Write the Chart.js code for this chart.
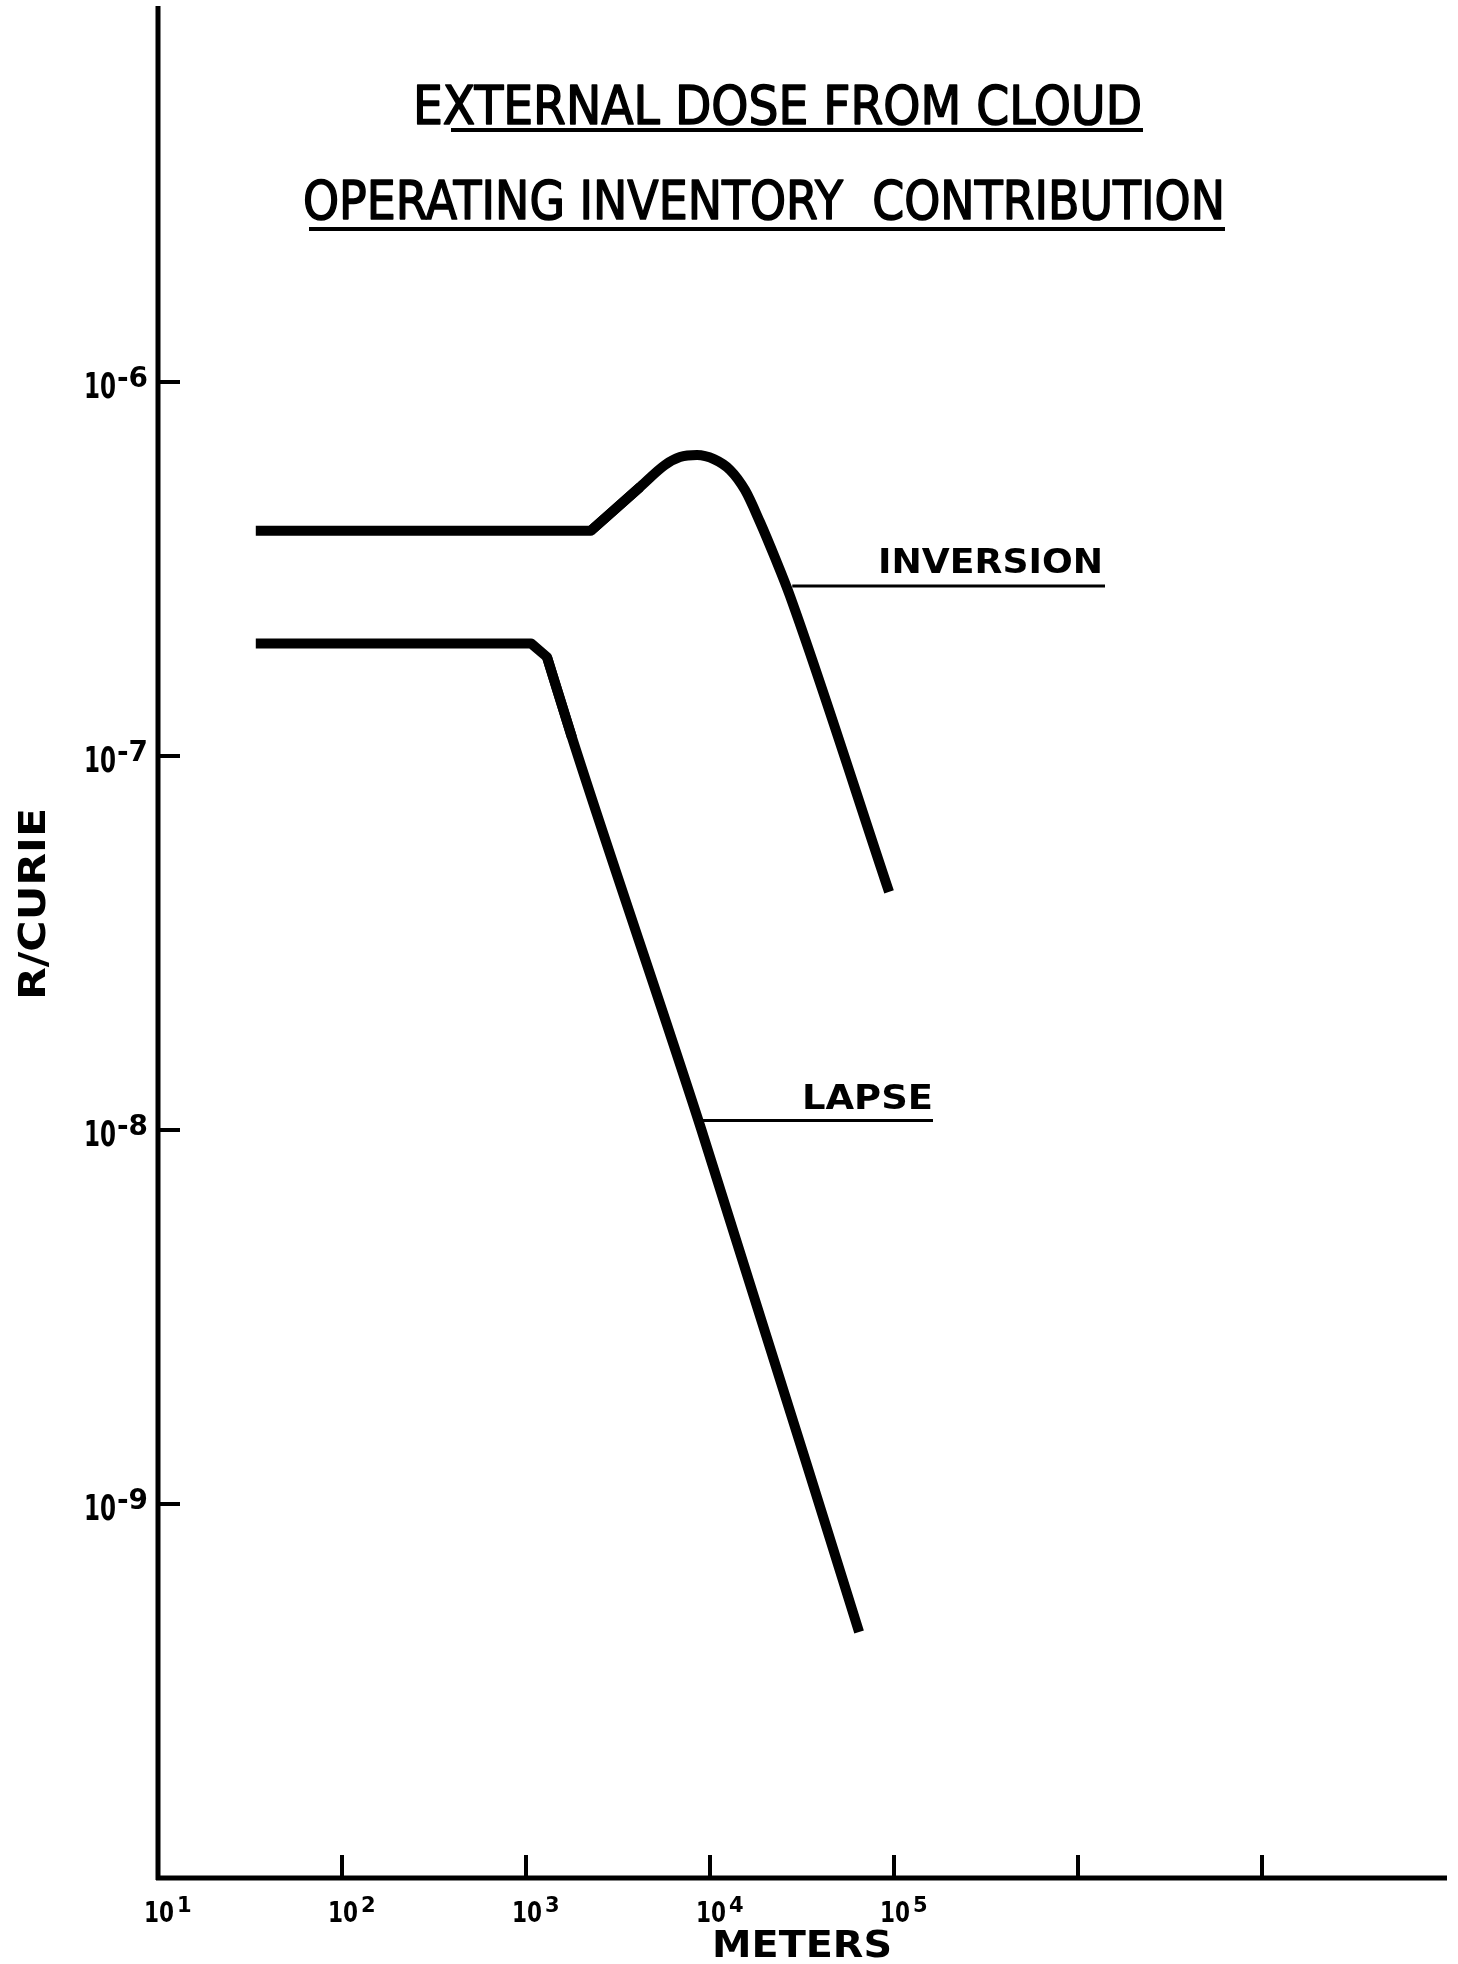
<!DOCTYPE html>
<html>
<head>
<meta charset="utf-8">
<title>External dose from cloud</title>
<script src="https://cdn.jsdelivr.net/npm/chart.js@4.4.1/dist/chart.umd.min.js"></script>
<style>
  html, body { margin: 0; padding: 0; background: #fff; }
  #wrap { width: 1458px; height: 1964px; position: relative; }
</style>
</head>
<body>
<div id="wrap"><canvas id="dose-chart"></canvas></div>
<script>
// distance (meters) vs dose (R/curie)
const inversionMeters = [34, 2250, 4170, 5690, 6870, 8500, 10500, 12850, 15500, 18700, 22600, 27200, 94000];
const inversionDose   = [4.0e-7, 4.0e-7, 5.24e-7, 6.0e-7, 6.3e-7, 6.38e-7, 6.22e-7, 5.82e-7, 5.14e-7, 4.22e-7, 3.38e-7, 2.68e-7, 4.33e-8];
const lapseMeters = [34, 1065, 1300, 1778, 8930, 64600];
const lapseDose   = [2.0e-7, 2.0e-7, 1.84e-7, 1.12e-7, 1.01e-8, 4.55e-10];

// ticks and labels
const xTicks = [1e2, 1e3, 1e4, 1e5, 1e6, 1e7];
const xLabelValues = [1e1, 1e2, 1e3, 1e4, 1e5];
const xLabelExps = ['1', '2', '3', '4', '5'];
const yTicks = [1e-6, 1e-7, 1e-8, 1e-9];
const yLabelExps = ['-6', '-7', '-8', '-9'];

const titleLines = ['EXTERNAL DOSE FROM CLOUD', 'OPERATING INVENTORY  CONTRIBUTION'];

// where the label leaders meet the curves (meters, R/curie)
const inversionLeader = [28000, 2.85e-7];
const lapseLeader = [8800, 1.06e-8];

const INK = '#000';
const FONT = '"DejaVu Sans", sans-serif';

const toPoints = (xs, ys) => xs.map((m, i) => ({ x: m, y: ys[i] }));

// draw text squeezed/stretched so it spans exactly `width` px from x
function fitText(ctx, text, x, y, width, outline) {
    const w = ctx.measureText(text).width;
    ctx.save();
    ctx.translate(x, y);
    ctx.scale(width / w, 1);
    ctx.textAlign = 'left';
    ctx.fillText(text, 0, 0);
    if (outline) {
        ctx.lineWidth = outline;
        ctx.lineJoin = 'round';
        ctx.strokeText(text, 0, 0);
    }
    ctx.restore();
}

const paperAxes = {
    id: 'paperAxes',
    afterDatasetsDraw(chart) {
        const { ctx, chartArea: a, scales: { x, y } } = chart;
        ctx.save();
        ctx.strokeStyle = INK;
        ctx.fillStyle = INK;
        ctx.textBaseline = 'alphabetic';

        // axis lines
        ctx.lineWidth = 5;
        ctx.beginPath();
        ctx.moveTo(a.left, 6);
        ctx.lineTo(a.left, a.bottom + 2);
        ctx.moveTo(a.left - 2, a.bottom);
        ctx.lineTo(a.right + 1, a.bottom);
        ctx.stroke();

        // tick marks point into the plot
        ctx.lineWidth = 4;
        ctx.beginPath();
        xTicks.forEach(v => {
            const px = x.getPixelForValue(v);
            ctx.moveTo(px, a.bottom);
            ctx.lineTo(px, a.bottom - 23);
        });
        yTicks.forEach(v => {
            const py = y.getPixelForValue(v);
            ctx.moveTo(a.left, py);
            ctx.lineTo(a.left + 22, py);
        });
        ctx.stroke();

        // x tick labels 10^n
        xLabelValues.forEach((v, i) => {
            const px = x.getPixelForValue(v);
            ctx.font = 'bold 29px ' + FONT;
            fitText(ctx, '10', px - 14, a.bottom + 44, 30);
            ctx.font = 'bold 21px ' + FONT;
            ctx.fillText(xLabelExps[i], px + 19, a.bottom + 34);
        });

        // y tick labels 10^-n
        yTicks.forEach((v, i) => {
            const py = y.getPixelForValue(v);
            ctx.font = 'bold 36px ' + FONT;
            fitText(ctx, '10', 84, py + 16, 32);
            ctx.font = 'bold 28px ' + FONT;
            fitText(ctx, yLabelExps[i], 117, py + 5, 31);
        });

        // axis titles
        ctx.font = 'bold 37px ' + FONT;
        fitText(ctx, 'METERS', 712, 1957, 180);
        ctx.save();
        ctx.translate(45, 1000);
        ctx.rotate(-Math.PI / 2);
        ctx.font = 'bold 38px ' + FONT;
        fitText(ctx, 'R/CURIE', 0, 0, 192);
        ctx.restore();

        // title, underlined
        ctx.font = '54px ' + FONT;
        fitText(ctx, titleLines[0], 413, 124, 729, 1.6);
        fitText(ctx, titleLines[1], 303, 219, 922, 1.6);
        ctx.lineWidth = 4;
        ctx.beginPath();
        ctx.moveTo(451, 130); ctx.lineTo(1143, 130);
        ctx.moveTo(309, 229); ctx.lineTo(1225, 229);
        ctx.stroke();

        // curve labels with leader lines
        ctx.lineWidth = 3;
        const invX = x.getPixelForValue(inversionLeader[0]);
        const invY = y.getPixelForValue(inversionLeader[1]);
        const lapX = x.getPixelForValue(lapseLeader[0]);
        const lapY = y.getPixelForValue(lapseLeader[1]);
        ctx.beginPath();
        ctx.moveTo(invX, invY); ctx.lineTo(1105, invY);
        ctx.moveTo(lapX, lapY); ctx.lineTo(933, lapY);
        ctx.stroke();
        ctx.font = 'bold 33px ' + FONT;
        fitText(ctx, 'INVERSION', 878, invY - 13, 225);
        fitText(ctx, 'LAPSE', 802, lapY - 12, 131);

        ctx.restore();
    }
};

// each curve: straight run through the corner, then a smooth part overlapping it
const ctx = document.getElementById('dose-chart').getContext('2d');
new Chart(ctx, {
    type: 'line',
    data: {
        datasets: [
            {
                label: 'INVERSION',
                data: toPoints(inversionMeters.slice(0, 3), inversionDose.slice(0, 3)),
                tension: 0,
            },
            {
                label: 'INVERSION',
                data: toPoints(inversionMeters.slice(1), inversionDose.slice(1)),
                cubicInterpolationMode: 'monotone',
            },
            {
                label: 'LAPSE',
                data: toPoints(lapseMeters.slice(0, 4), lapseDose.slice(0, 4)),
                tension: 0,
            },
            {
                label: 'LAPSE',
                data: toPoints(lapseMeters.slice(2), lapseDose.slice(2)),
                cubicInterpolationMode: 'monotone',
            }
        ]
    },
    options: {
        responsive: true,
        maintainAspectRatio: false,
        animation: false,
        layout: { padding: { left: 158, right: 12, top: 8, bottom: 86 } },
        datasets: {
            line: {
                borderColor: INK,
                backgroundColor: INK,
                borderWidth: 10,
                borderCapStyle: 'butt',
                borderJoinStyle: 'round',
                pointRadius: 0,
                fill: false,
            }
        },
        plugins: {
            colors: { enabled: false },
            legend: { display: false },
            tooltip: { enabled: false },
        },
        scales: {
            x: { type: 'logarithmic', min: 1e1, max: 1e8, display: false },
            y: { type: 'logarithmic', min: 1e-10, max: 1e-5, display: false },
        }
    },
    plugins: [paperAxes]
});
</script>
</body>
</html>
